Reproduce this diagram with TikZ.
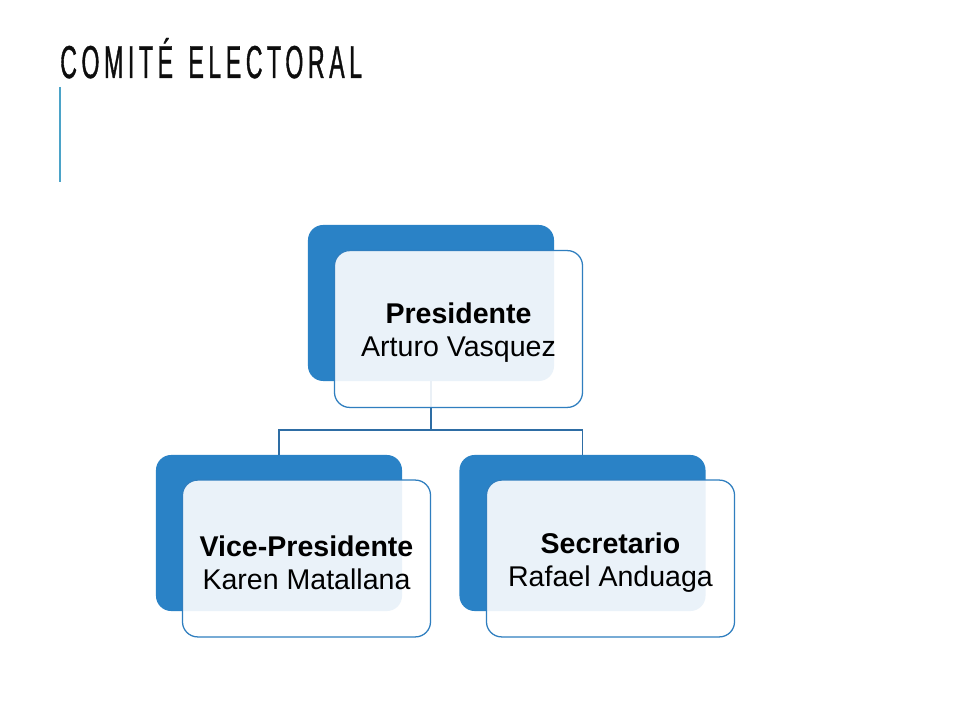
\documentclass[tikz,border=0pt]{standalone}
\usepackage{fontspec}
\setmainfont{Liberation Sans}
\newfontfamily\titlefont[FakeStretch=0.5,LetterSpace=10,WordSpace=1.4,FakeBold=0.8]{Liberation Sans}
\usepackage{tikz}
\usetikzlibrary{calc}

\definecolor{boxblue}{HTML}{2A82C6}
\definecolor{edgeblue}{HTML}{2F7EBF}
\definecolor{linkblue}{HTML}{2E6DA4}
\definecolor{accentblue}{HTML}{4BA3C8}

\begin{document}
\begin{tikzpicture}[x=0.025cm, y=-0.025cm,
    backbox/.style={fill=boxblue, rounded corners=0.38cm, minimum width=6.15cm, minimum height=3.9cm, inner sep=0pt},
    frontbox/.style={draw=edgeblue, line width=0.9pt, fill=white, fill opacity=0.9, rounded corners=0.38cm,
      minimum width=6.2cm, minimum height=3.92cm, inner sep=0pt},
    nametext/.style={align=center, inner sep=0pt, font=\fontsize{20.3}{23.5}\selectfont},
    link/.style={linkblue, line width=1.1pt}]
    \fill[white] (0,0) rectangle (960,720);
    \useasboundingbox (0,0) rectangle (960,720);

    % title
    \node[anchor=base west, inner sep=0pt, font=\titlefont\fontsize{32.8}{36}\selectfont, text=black!95] (title) at (60,78) {COMITÉ ELECTORAL};
    \draw[accentblue, line width=1.5pt] (60,87) -- (60,182);

    % back boxes
    \node[backbox] (presB) at (431,303) {};
    \node[backbox] (viceB) at (279,533) {};
    \node[backbox] (secB) at (582.5,533) {};

    % connectors
    \coordinate (bar) at (431,430);
    \draw[link] (presB.south) -- (bar);
    \draw[link] (bar) -| (viceB.north);
    \draw[link] (bar) -| (secB.north);

    % front boxes
    \node[frontbox] (presF) at (458.5,329) {};
    \node[frontbox] (viceF) at (306.5,558.5) {};
    \node[frontbox] (secF) at (610.5,558.5) {};

    \node[nametext] (presT) at ($(presF.center)+(0,4)$) {\textbf{Presidente}\\Arturo Vasquez};
    \node[nametext] (viceT) at ($(viceF.center)+(0,4)$) {\textbf{Vice-Presidente}\\Karen Matallana};
    \node[nametext] (secT) at ($(secF.center)+(0,4)$) {\textbf{Secretario}\\Rafael Anduaga};
  \end{tikzpicture}
\end{document}
